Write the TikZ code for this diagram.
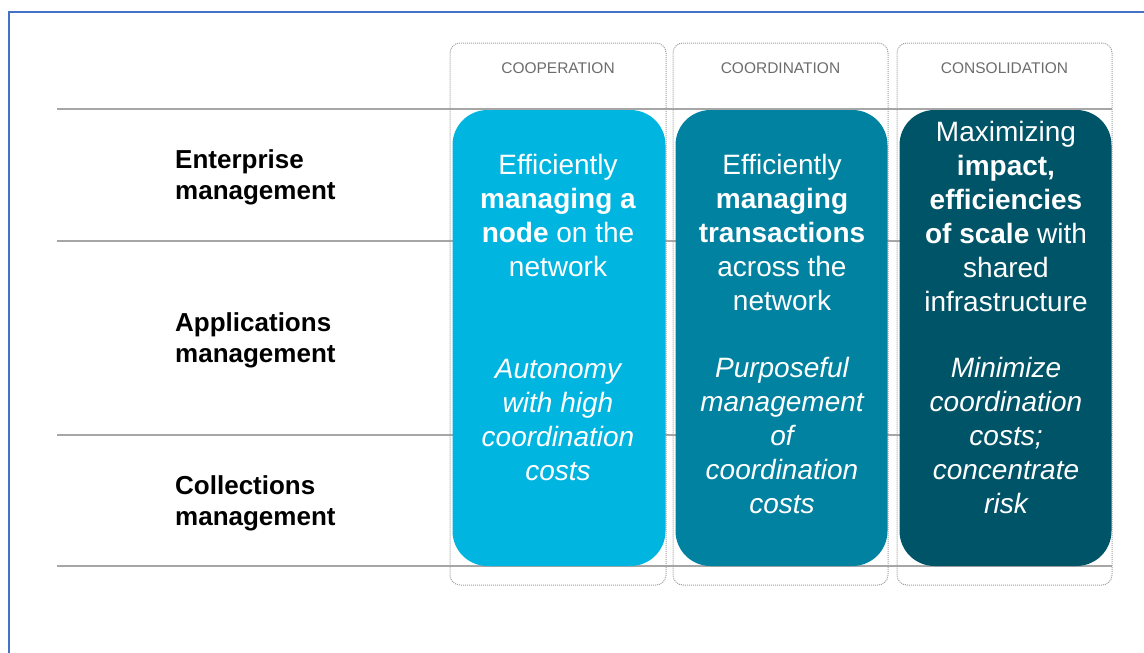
\documentclass[tikz,border=0pt]{standalone}
\usepackage{fontspec}
\setmainfont{Liberation Sans}
\usepackage{xcolor}
\usetikzlibrary{positioning}
\definecolor{coopblue}{HTML}{00B5E0}
\definecolor{coordteal}{HTML}{0082A0}
\definecolor{consolteal}{HTML}{005468}
\definecolor{frameblue}{HTML}{4472C4}

\begin{document}
\begin{tikzpicture}[x=1pt, y=-1pt,
    rowlabel/.style={anchor=base west, align=left, inner sep=0pt,
      font=\fontsize{26}{31}\selectfont\bfseries},
    colhead/.style={anchor=base, inner sep=0pt, text=gray!85!black,
      font=\fontsize{15.5}{18}\selectfont},
    lane/.style={draw=gray!75, densely dotted, line width=1pt,
      rounded corners=10pt, inner sep=0pt},
    card/.style={rounded corners=35pt, inner sep=0pt},
    cardtext/.style={anchor=base, align=center, inner sep=0pt, text=white,
      font=\fontsize{28}{34}\selectfont},
    cardnote/.style={cardtext, font=\fontsize{28}{34}\selectfont\itshape},
    rule/.style={draw=gray!70, line width=1.4pt}]

      \useasboundingbox (0,0) rectangle (1144,653);
      \draw[frameblue, line width=2.6pt] (9,700) -- (9,12) -- (1200,12);

      \foreach \y in {109,241,435,566}{
        \draw[rule] (57,\y) -- (1112,\y);
      }

      \foreach \name/\xl/\xr/\clr/\lab in {coop/450/666/coopblue/COOPERATION,
                                            coord/673/888/coordteal/COORDINATION,
                                            consol/897/1112/consolteal/CONSOLIDATION}{
        \node[lane, minimum width={(\xr-\xl)*1pt}, minimum height=542pt]
          (\name lane) at ({(\xl+\xr)/2},314) {};
        \node[card, fill=\clr, minimum width={(\xr-\xl-3)*1pt}, minimum height=456pt]
          (\name card) at ({(\xl+\xr)/2+1},338) {};
        \node[colhead] (\name head) at ({(\xl+\xr)/2},73) {\lab};
      }

      % base anchor sits on the last line
      \node[rowlabel] (enterprise) at (175,199) {Enterprise\\management};
      \node[rowlabel] (applications) at (175,362) {Applications\\management};
      \node[rowlabel] (collections) at (175,525) {Collections\\management};

      \node[cardtext] (coopmain) at (558,276)
        {Efficiently\\\textbf{managing a}\\\textbf{node} on the\\network};
      \node[cardnote] (coopnote) at (558,480)
        {Autonomy\\with high\\coordination\\costs};

      \node[cardtext] (coordmain) at (782,310)
        {Efficiently\\\textbf{managing}\\\textbf{transactions}\\across the\\network};
      \node[cardnote] (coordnote) at (782,513)
        {Purposeful\\management\\of\\coordination\\costs};

      \node[cardtext] (consolmain) at (1006,311)
        {Maximizing\\\textbf{impact,}\\\textbf{efficiencies}\\\textbf{of scale} with\\shared\\infrastructure};
      \node[cardnote] (consolnote) at (1006,513)
        {Minimize\\coordination\\costs;\\concentrate\\risk};

    \end{tikzpicture}
\end{document}
